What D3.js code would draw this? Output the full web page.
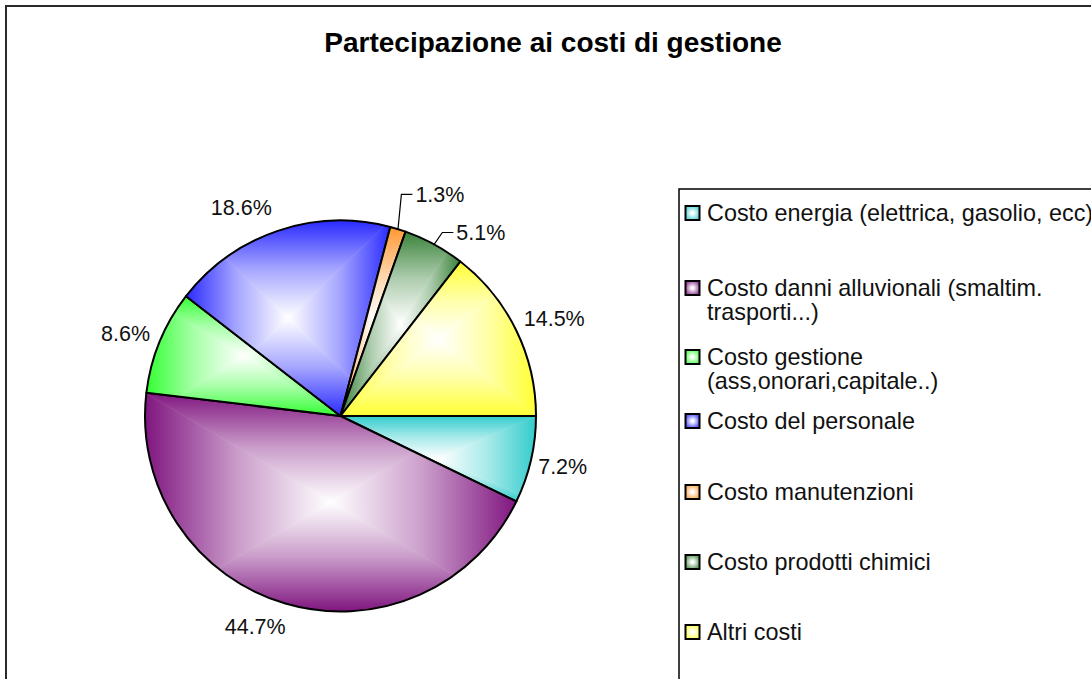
<!DOCTYPE html>
<html>
<head>
<meta charset="utf-8">
<script src="https://cdn.jsdelivr.net/npm/d3@7"></script>
<style>
  html, body { margin: 0; padding: 0; background: #fff; }
  svg { display: block; font-family: "Liberation Sans", Arial, sans-serif; }
</style>
</head>
<body>
<svg id="chart" width="1091" height="679"></svg>
<script>
// Cost categories and their shares (%)
const categories = [
  "Costo energia (elettrica, gasolio, ecc)",
  "Costo danni alluvionali (smaltim. trasporti...)",
  "Costo gestione (ass,onorari,capitale..)",
  "Costo del personale",
  "Costo manutenzioni",
  "Costo prodotti chimici",
  "Altri costi"
];
const shares = [7.2, 44.7, 8.6, 18.6, 1.3, 5.1, 14.5];
const sliceColors = ["#33CCCC", "#801580", "#33FF33", "#2A2AFF", "#FF9933", "#3A823A", "#FFFF33"];

// Legend text, wrapped as shown in the legend box
const legendLines = [
  ["Costo energia (elettrica, gasolio, ecc)"],
  ["Costo danni alluvionali (smaltim.", "trasporti...)"],
  ["Costo gestione", "(ass,onorari,capitale..)"],
  ["Costo del personale"],
  ["Costo manutenzioni"],
  ["Costo prodotti chimici"],
  ["Altri costi"]
];

// Layout
const W = 1091, H = 679;
const cx = 340.5, cy = 416, R = 195.5;
const labelR = 228;
// label nudges (pixels) away from the default radial position
const labelNudge = [[0, -1], [-21, -8], [-4, 4], [-26, 7.5], [0, 0], [0, 0], [9, 3]];
// leader-line elbows (offset from the slice edge) for the thin slices
const leaderElbow = { 4: [3.4, -34.7], 5: [8.2, -11.9] };
const legendRowY = [213, 288, 357, 421, 492, 562, 632];
const legendLineH = 24;

const svg = d3.select("#chart");
const defs = svg.append("defs");

// outer chart frame
svg.append("rect")
  .attr("x", 6).attr("y", 6).attr("width", W + 20).attr("height", H + 20)
  .attr("fill", "#fff").attr("stroke", "#2a2a2a").attr("stroke-width", 2);

// title
svg.append("text")
  .attr("x", 553).attr("y", 52)
  .attr("text-anchor", "middle")
  .attr("font-size", 28).attr("font-weight", "bold").attr("fill", "#000")
  .text("Partecipazione ai costi di gestione");

const pie = d3.pie().sort(null).value(d => d)
  .startAngle(Math.PI / 2).endAngle(Math.PI / 2 + 2 * Math.PI);
const arcs = pie(shares);
const arcGen = d3.arc().innerRadius(0).outerRadius(R);

const pt = (a, r) => [r * Math.sin(a), -r * Math.cos(a)];

const g = svg.append("g").attr("transform", `translate(${cx},${cy})`);

// Each slice gets a "from centre" rectangular gradient over its bounding box:
// four triangles, each shading from white at the box centre to the slice colour at the box edge.
arcs.forEach((a, i) => {
  const pts = [[0, 0], pt(a.startAngle, R), pt(a.endAngle, R)];
  for (let k = 0; k <= 8; k++) {
    const q = k * Math.PI / 2;
    if (q > a.startAngle && q < a.endAngle) pts.push(pt(q, R));
  }
  const x0 = d3.min(pts, p => p[0]), x1 = d3.max(pts, p => p[0]);
  const y0 = d3.min(pts, p => p[1]), y1 = d3.max(pts, p => p[1]);
  const mx = (x0 + x1) / 2, my = (y0 + y1) / 2;

  const clipId = "clip" + i;
  defs.append("clipPath").attr("id", clipId)
    .append("path").attr("d", arcGen(a));

  const sides = [
    { tri: [[x0, y0], [x1, y0], [mx, my]], to: [mx, y0] },
    { tri: [[x1, y0], [x1, y1], [mx, my]], to: [x1, my] },
    { tri: [[x1, y1], [x0, y1], [mx, my]], to: [mx, y1] },
    { tri: [[x0, y1], [x0, y0], [mx, my]], to: [x0, my] }
  ];
  const sg = g.append("g").attr("clip-path", `url(#${clipId})`);
  sides.forEach((s, j) => {
    const id = `grad${i}_${j}`;
    const lg = defs.append("linearGradient").attr("id", id)
      .attr("gradientUnits", "userSpaceOnUse")
      .attr("x1", mx).attr("y1", my).attr("x2", s.to[0]).attr("y2", s.to[1]);
    lg.append("stop").attr("offset", 0).attr("stop-color", "#ffffff");
    lg.append("stop").attr("offset", 0.5)
      .attr("stop-color", d3.interpolateRgb("#ffffff", sliceColors[i])(0.42));
    lg.append("stop").attr("offset", 1).attr("stop-color", sliceColors[i]);
    sg.append("path")
      .attr("d", "M" + s.tri.map(p => p.join(",")).join("L") + "Z")
      .attr("fill", `url(#${id})`)
      .attr("stroke", `url(#${id})`).attr("stroke-width", 0.6);
  });
  g.append("path").attr("d", arcGen(a))
    .attr("fill", "none").attr("stroke", "#000").attr("stroke-width", 2)
    .attr("stroke-linejoin", "round");
});

// data labels
const labelSize = 21.5;
arcs.forEach((a, i) => {
  const mid = (a.startAngle + a.endAngle) / 2;
  const txt = a.data.toFixed(1) + "%";
  if (leaderElbow[i]) {
    const e = pt(mid, R);
    const ex = e[0] + leaderElbow[i][0], ey = e[1] + leaderElbow[i][1];
    g.append("polyline")
      .attr("points", [[e[0], e[1]], [ex, ey], [ex + 11, ey]].map(p => p.join(",")).join(" "))
      .attr("fill", "none").attr("stroke", "#000").attr("stroke-width", 1.2);
    g.append("text")
      .attr("x", ex + 14).attr("y", ey + 0.35 * labelSize)
      .attr("font-size", labelSize).attr("fill", "#111")
      .text(txt);
  } else {
    const p = pt(mid, labelR);
    g.append("text")
      .attr("x", p[0] + labelNudge[i][0])
      .attr("y", p[1] + labelNudge[i][1] + 0.35 * labelSize)
      .attr("text-anchor", "middle")
      .attr("font-size", labelSize).attr("fill", "#111")
      .text(txt);
  }
});

// legend box
svg.append("rect")
  .attr("x", 679).attr("y", 189).attr("width", 500).attr("height", 600)
  .attr("fill", "#fff").attr("stroke", "#000").attr("stroke-width", 1.5);

const legendSize = 23.4;
categories.forEach((c, i) => {
  const rg = defs.append("radialGradient").attr("id", "lg" + i);
  rg.append("stop").attr("offset", 0.15).attr("stop-color", "#ffffff");
  rg.append("stop").attr("offset", 1).attr("stop-color",
    d3.interpolateRgb(sliceColors[i], "#ffffff")(0.25));
  const y = legendRowY[i];
  svg.append("rect")
    .attr("x", 685.5).attr("y", y - 7).attr("width", 14).attr("height", 14)
    .attr("fill", `url(#lg${i})`).attr("stroke", "#000").attr("stroke-width", 2);
  const t = svg.append("text")
    .attr("font-size", legendSize).attr("fill", "#111");
  legendLines[i].forEach((line, k) => {
    t.append("tspan").attr("x", 707).attr("y", y + k * legendLineH + 0.35 * legendSize).text(line);
  });
});
</script>
</body>
</html>
